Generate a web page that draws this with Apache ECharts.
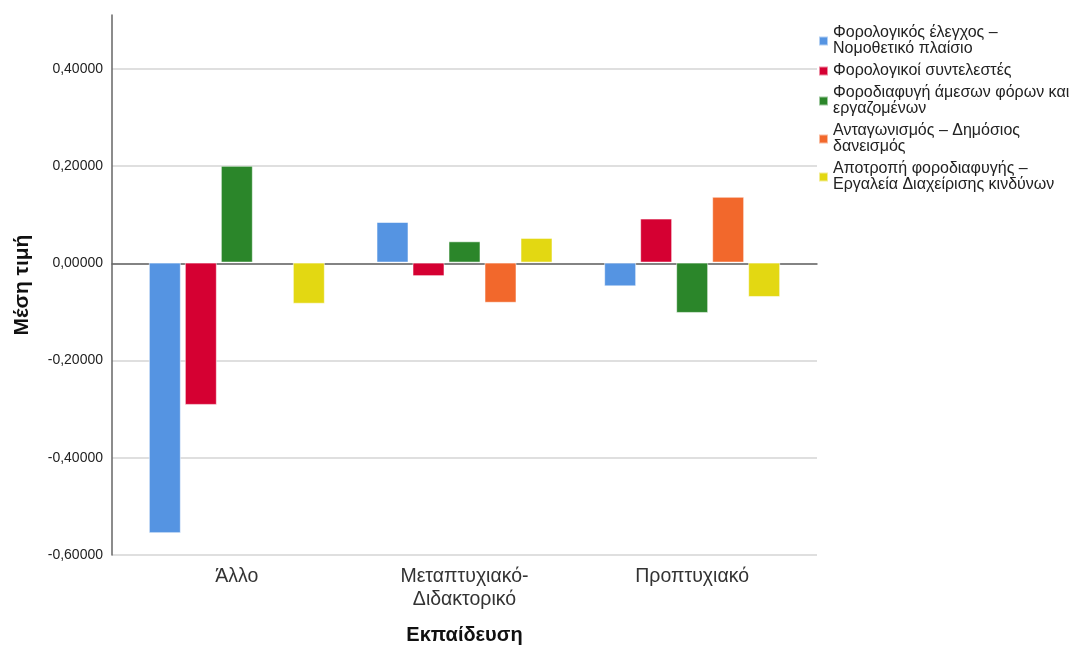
<!DOCTYPE html>
<html>
<head>
<meta charset="utf-8">
<style>
  html, body { margin: 0; padding: 0; background: #fff; }
  #chart { width: 1075px; height: 650px; }
</style>
<script src="https://cdn.jsdelivr.net/npm/echarts@6/dist/echarts.min.js"></script>
</head>
<body>
<div id="chart"></div>
<script>
// Education levels on the x axis
const categories = ['Άλλο', 'Μεταπτυχιακό-\nΔιδακτορικό', 'Προπτυχιακό'];

// Mean factor scores per education level
const seriesNames = [
  'Φορολογικός έλεγχος –\nΝομοθετικό πλαίσιο',
  'Φορολογικοί συντελεστές',
  'Φοροδιαφυγή άμεσων φόρων και\nεργαζομένων',
  'Ανταγωνισμός – Δημόσιος\nδανεισμός',
  'Αποτροπή φοροδιαφυγής –\nΕργαλεία Διαχείρισης κινδύνων'
];
const taxAudit      = [-0.559, 0.084, -0.049];
const taxRates      = [-0.294, -0.028, 0.091];
const directEvasion = [0.200, 0.044, -0.104];
const competition   = [null, -0.083, 0.136];
const deterrence    = [-0.085, 0.051, -0.071];

const yTicks = { min: -0.6, max: 0.4, interval: 0.2 };
const colors = ['#5594e2', '#d50032', '#2b862a', '#f2682c', '#e3d812'];

const values = [taxAudit, taxRates, directEvasion, competition, deterrence];

const font = 'Liberation Sans, Arial, sans-serif';

const chart = echarts.init(document.getElementById('chart'), null, { renderer: 'canvas' });

const series = seriesNames.map((name, i) => ({
  name: name,
  type: 'bar',
  xAxisIndex: 2,
  yAxisIndex: 2,
  data: values[i],
  barWidth: 32,
  barGap: '12.5%',
  itemStyle: { color: colors[i], borderColor: 'rgba(255,255,255,0.55)', borderWidth: 1 },
  emphasis: { disabled: true }
}));

chart.setOption({
  animation: false,
  color: colors,
  grid: [
    // gridlines and tick labels
    { left: 112, right: 258, top: 69, bottom: 95 },
    // full-height vertical axis line
    { left: 112, right: 258, top: 15, bottom: 95 },
    // bars
    { left: 123, right: 269, top: 69, bottom: 95 }
  ],
  xAxis: [
    {
      gridIndex: 0, type: 'value', min: 0, max: 1,
      axisLine: { show: true, lineStyle: { color: '#666', width: 1.5 } },
      axisTick: { show: false }, axisLabel: { show: false }, splitLine: { show: false }
    },
    {
      gridIndex: 1, type: 'value', min: 0, max: 1, show: false
    },
    {
      gridIndex: 2, type: 'category', data: categories,
      name: 'Εκπαίδευση', nameLocation: 'middle', nameGap: 72,
      nameTextStyle: { fontFamily: font, fontSize: 20, fontWeight: 'bold', color: '#111' },
      axisLine: { show: false }, axisTick: { show: false },
      axisLabel: { fontFamily: font, fontSize: 19.5, color: '#333', margin: 12, lineHeight: 23 }
    }
  ],
  yAxis: [
    {
      gridIndex: 0, type: 'value', min: yTicks.min, max: yTicks.max, interval: yTicks.interval,
      axisLine: { show: false }, axisTick: { show: false },
      axisLabel: {
        fontFamily: font, fontSize: 14, color: '#222', margin: 9,
        formatter: v => v.toFixed(5).replace('.', ',')
      },
      splitLine: { show: true, lineStyle: { color: '#d4d4d4', width: 1.5 } }
    },
    {
      gridIndex: 1, type: 'value', min: 0, max: 1,
      name: 'Μέση τιμή', nameLocation: 'middle', nameGap: 79,
      nameTextStyle: { fontFamily: font, fontSize: 21, fontWeight: 'bold', color: '#111' },
      axisLine: { show: true, lineStyle: { color: '#666', width: 1.5 } },
      axisTick: { show: false }, axisLabel: { show: false }, splitLine: { show: false }
    },
    {
      gridIndex: 2, type: 'value', min: yTicks.min, max: yTicks.max, interval: yTicks.interval,
      show: false, splitLine: { show: false }
    }
  ],
  legend: {
    orient: 'vertical',
    left: 813,
    top: 20,
    itemWidth: 9,
    itemHeight: 9,
    itemGap: 6,
    icon: 'rect',
    selectedMode: false,
    textStyle: { fontFamily: font, fontSize: 16, color: '#222', lineHeight: 16 },
    data: seriesNames
  },
  series: series
});
</script>
</body>
</html>
